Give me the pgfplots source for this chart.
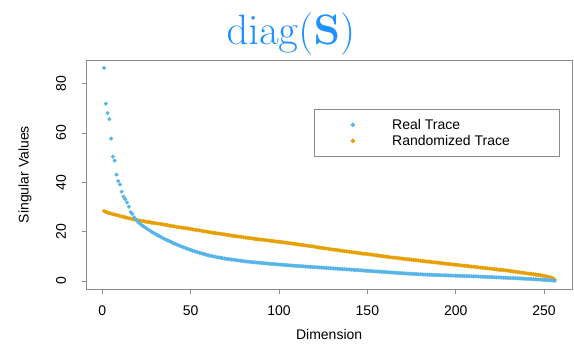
\RequirePackage{fix-cm}
\documentclass[border=0pt]{standalone}
\usepackage[no-math]{fontspec}
\setmainfont{Liberation Sans}
\usepackage{pgfplots}
\pgfplotsset{compat=1.18}
\usepackage{pgfplotstable}
\definecolor{realc}{HTML}{56B4E9}
\definecolor{randc}{HTML}{E69F00}
\definecolor{titlec}{RGB}{30,144,255}
\definecolor{axc}{gray}{0.55}
\pgfplotstableread{
x real rand
1 86.4 28.4
2 71.9 28.0
3 68.1 27.7
4 65.6 27.5
5 57.7 27.3
6 50.4 27.1
7 48.8 26.9
8 43.1 26.7
9 40.5 26.6
10 39.1 26.3
11 36.2 26.1
12 34.2 26.0
13 33.1 25.8
14 31.8 25.6
15 30.1 25.4
16 27.9 25.3
17 27.2 25.1
18 25.8 24.9
19 25.0 24.8
20 24.1 24.6
21 23.4 24.5
22 22.8 24.4
23 22.3 24.3
24 21.8 24.1
25 21.3 24.0
26 20.8 23.9
27 20.4 23.8
28 19.9 23.6
29 19.5 23.5
30 19.1 23.4
31 18.7 23.3
32 18.3 23.2
33 17.9 23.1
34 17.5 23.0
35 17.1 22.8
36 16.8 22.7
37 16.4 22.6
38 16.1 22.4
39 15.8 22.3
40 15.4 22.2
41 15.1 22.1
42 14.8 21.9
43 14.5 21.8
44 14.2 21.7
45 13.9 21.6
46 13.6 21.5
47 13.4 21.4
48 13.1 21.3
49 12.8 21.2
50 12.6 21.1
51 12.3 20.9
52 12.1 20.8
53 11.8 20.7
54 11.6 20.6
55 11.4 20.5
56 11.2 20.3
57 11.0 20.2
58 10.8 20.1
59 10.6 20.0
60 10.4 19.8
61 10.2 19.7
62 10.1 19.6
63 9.9 19.5
64 9.8 19.4
65 9.6 19.3
66 9.5 19.2
67 9.4 19.1
68 9.2 19.0
69 9.1 18.9
70 9.0 18.7
71 8.9 18.6
72 8.8 18.5
73 8.7 18.4
74 8.6 18.3
75 8.5 18.2
76 8.4 18.1
77 8.3 18.0
78 8.2 17.9
79 8.1 17.8
80 8.0 17.7
81 7.9 17.6
82 7.85 17.5
83 7.8 17.4
84 7.7 17.3
85 7.6 17.2
86 7.55 17.1
87 7.5 17.0
88 7.4 16.9
89 7.35 16.8
90 7.3 16.75
91 7.2 16.7
92 7.15 16.6
93 7.1 16.5
94 7.0 16.4
95 6.95 16.3
96 6.9 16.2
97 6.85 16.1
98 6.8 16.0
99 6.7 15.95
100 6.65 15.9
101 6.6 15.8
102 6.55 15.7
103 6.5 15.6
104 6.4 15.5
105 6.35 15.4
106 6.3 15.3
107 6.25 15.2
108 6.2 15.1
109 6.15 15.0
110 6.1 14.9
111 6.05 14.8
112 6.0 14.7
113 5.95 14.6
114 5.9 14.5
115 5.85 14.4
116 5.8 14.3
117 5.75 14.2
118 5.7 14.1
119 5.65 14.0
120 5.6 13.9
121 5.55 13.75
122 5.5 13.6
123 5.45 13.5
124 5.4 13.4
125 5.35 13.3
126 5.3 13.2
127 5.25 13.1
128 5.2 13.0
129 5.15 12.9
130 5.1 12.8
131 5.05 12.7
132 5.0 12.6
133 4.95 12.5
134 4.9 12.4
135 4.85 12.3
136 4.8 12.2
137 4.75 12.1
138 4.7 12.0
139 4.65 11.9
140 4.6 11.8
141 4.55 11.7
142 4.5 11.6
143 4.45 11.5
144 4.4 11.4
145 4.35 11.3
146 4.3 11.2
147 4.25 11.1
148 4.2 11.0
149 4.15 10.95
150 4.1 10.9
151 4.05 10.8
152 4.0 10.7
153 3.95 10.6
154 3.9 10.5
155 3.85 10.4
156 3.8 10.3
157 3.75 10.2
158 3.7 10.1
159 3.65 10.0
160 3.6 9.9
161 3.55 9.8
162 3.5 9.7
163 3.45 9.6
164 3.4 9.5
165 3.35 9.45
166 3.3 9.4
167 3.25 9.3
168 3.2 9.2
169 3.15 9.1
170 3.1 9.0
171 3.05 8.9
172 3.0 8.85
173 2.95 8.8
174 2.9 8.7
175 2.9 8.6
176 2.85 8.5
177 2.8 8.45
178 2.75 8.4
179 2.7 8.3
180 2.7 8.2
181 2.65 8.1
182 2.6 8.0
183 2.6 7.9
184 2.55 7.85
185 2.5 7.8
186 2.5 7.7
187 2.45 7.6
188 2.4 7.5
189 2.4 7.45
190 2.35 7.4
191 2.35 7.3
192 2.3 7.2
193 2.3 7.1
194 2.25 7.0
195 2.25 6.95
196 2.2 6.9
197 2.2 6.8
198 2.15 6.7
199 2.15 6.6
200 2.1 6.55
201 2.1 6.5
202 2.05 6.4
203 2.05 6.3
204 2.0 6.2
205 2.0 6.15
206 1.95 6.1
207 1.95 6.0
208 1.9 5.9
209 1.9 5.8
210 1.85 5.75
211 1.85 5.7
212 1.8 5.6
213 1.75 5.5
214 1.75 5.4
215 1.7 5.35
216 1.7 5.3
217 1.65 5.2
218 1.6 5.1
219 1.6 5.0
220 1.55 4.95
221 1.5 4.9
222 1.5 4.8
223 1.45 4.7
224 1.4 4.6
225 1.4 4.5
226 1.35 4.45
227 1.3 4.4
228 1.3 4.3
229 1.25 4.2
230 1.2 4.1
231 1.2 4.0
232 1.15 3.9
233 1.1 3.8
234 1.1 3.7
235 1.05 3.6
236 1.0 3.5
237 0.95 3.4
238 0.95 3.3
239 0.9 3.2
240 0.85 3.1
241 0.8 3.0
242 0.8 2.9
243 0.75 2.8
244 0.7 2.7
245 0.65 2.6
246 0.6 2.5
247 0.6 2.4
248 0.55 2.3
249 0.5 2.2
250 0.45 2.05
251 0.4 1.9
252 0.35 1.75
253 0.3 1.6
254 0.25 1.4
255 0.15 1.1
256 0.05 0.5
}\datatable
\begin{document}
\begin{tikzpicture}[x=1pt,y=1pt]
\path[use as bounding box] (0,0) rectangle (574,346);
\node[anchor=base, text=titlec, font=\fontsize{42.5}{50}\selectfont, inner sep=0pt] at (291,301) {$\mathrm{diag}(\mathbf{S})$};
\begin{axis}[
  at={(86.3pt,56.7pt)}, anchor=south west,
  scale only axis, width=485.7pt, height=229.3pt,
  xmin=-9.05, xmax=265.8, ymin=-3.4, ymax=89.6,
  axis line style={draw=axc, line width=0.8pt},
  tick style={draw=axc, line width=0.8pt},
  major tick length=4.7pt, tick align=outside, tick pos=left,
  xtick={0,50,100,150,200,250}, ytick={0,20,40,60,80},
  /pgf/number format/assume math mode=true,
  ticklabel style={font=\fontsize{14}{16}\selectfont, inner sep=0pt},
  xticklabel style={anchor=center, yshift=-17pt},
  yticklabel style={anchor=center, xshift=-20.6pt, rotate=90},
  xlabel={Dimension}, ylabel={Singular Values},
  label style={font=\fontsize{14}{16}\selectfont},
  xlabel style={at={(axis description cs:0.5,-0.195)}, anchor=center},
  ylabel style={at={(axis description cs:-0.1262,0.5)}, anchor=center},
  reverse legend,
  legend cell align=left,
  legend image code/.code={\path (0pt,-1pt) (76pt,1pt); \draw[#1] plot coordinates {(38pt,0pt)};},
  legend style={at={(0.4688,0.7863)}, anchor=north west, draw=axc, line width=0.8pt,
    inner xsep=0pt, inner ysep=10.5pt, row sep=6pt, column sep=1pt,
    font=\fontsize{14}{16}\selectfont,
    nodes={inner sep=0pt, text height=10pt, text depth=0pt}},
]
\addplot[only marks, mark=*, mark size=1.8pt, color=randc, mark options={draw=none, fill=randc}] table[x=x, y=rand] {\datatable};
\addlegendentry{Randomized Trace\hspace*{49pt}}
\addplot[only marks, mark=*, mark size=1.8pt, color=realc, mark options={draw=none, fill=realc}] table[x=x, y=real] {\datatable};
\addlegendentry{Real Trace}
\end{axis}
\end{tikzpicture}
\end{document}
